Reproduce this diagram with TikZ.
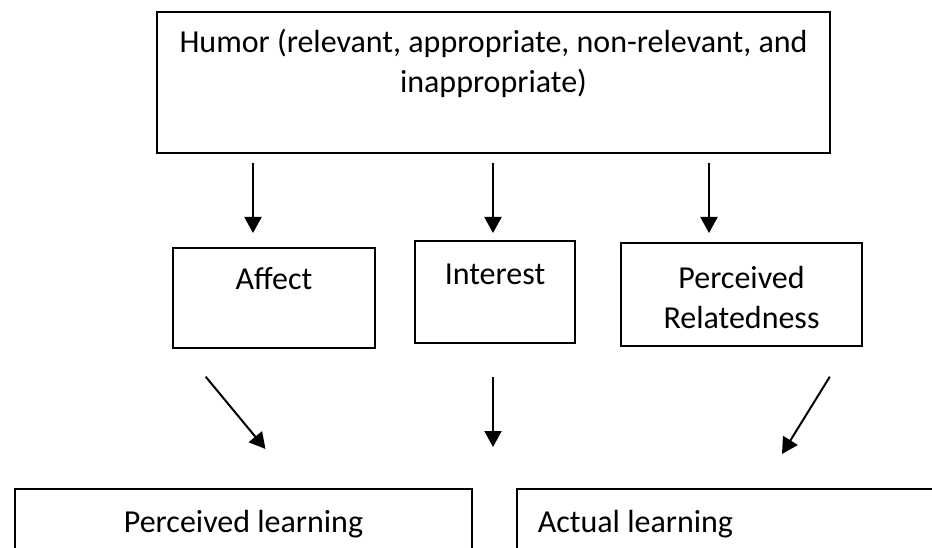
\documentclass[tikz,border=0pt]{standalone}
\usepackage{fontspec}
\setmainfont{Carlito}
\usetikzlibrary{arrows.meta}

\tikzset{
	box/.style={draw, line width=1.4pt, inner sep=0pt},
	lbl/.style={anchor=base, inner sep=0pt, font=\fontsize{32}{40}\selectfont},
	arr/.style={line width=2pt, -{Triangle[width=17pt,length=16pt]}},
}

\begin{document}
\begin{tikzpicture}[x=1pt,y=-1pt]
	\clip (0,0) rectangle (932,548);
	\node (humor) [box, minimum width=673, minimum height=141] at (493.5,82.5) {};
	\node (affect) [box, minimum width=202, minimum height=100] at (274,298) {};
	\node (interest) [box, minimum width=160, minimum height=102] at (495,292) {};
	\node (related) [box, minimum width=241, minimum height=103] at (741.5,294.5) {};
	\node (perclearn) [box, minimum width=457, minimum height=131] at (243.5,554.5) {};
	\node (actlearn) [box, minimum width=483, minimum height=131] at (758.5,554.5) {};

	\node (humorA) [lbl] at (493.5,53) {Humor (relevant, appropriate, non-relevant, and};
	\node (humorB) [lbl] at (493.5,93) {inappropriate)};
	\node (affectT) [lbl] at (274,290) {Affect};
	\node (interestT) [lbl] at (495,284) {Interest};
	\node (relatedA) [lbl] at (741.5,288) {Perceived};
	\node (relatedB) [lbl] at (741.5,328) {Relatedness};
	\node (perclearnT) [lbl] at (243.5,532) {Perceived learning};
	\node (actlearnT) [lbl, anchor=base west] at (537.6,532) {Actual learning};

	% arrow ends
	\coordinate (t1s) at (253,163); \coordinate (t1e) at (253,233);
	\coordinate (t2s) at (493,163); \coordinate (t2e) at (493,233);
	\coordinate (t3s) at (709,163); \coordinate (t3e) at (709,233);
	\coordinate (b1s) at (205.7,376.7); \coordinate (b1e) at (265.5,449);
	\coordinate (b2s) at (493,377); \coordinate (b2e) at (493,447);
	\coordinate (b3s) at (829.8,376.7); \coordinate (b3e) at (782,454);

	\draw [arr] (t1s) -- (t1e);
	\draw [arr] (t2s) -- (t2e);
	\draw [arr] (t3s) -- (t3e);
	\draw [arr] (b1s) -- (b1e);
	\draw [arr] (b2s) -- (b2e);
	\draw [arr] (b3s) -- (b3e);
\end{tikzpicture}
\end{document}
